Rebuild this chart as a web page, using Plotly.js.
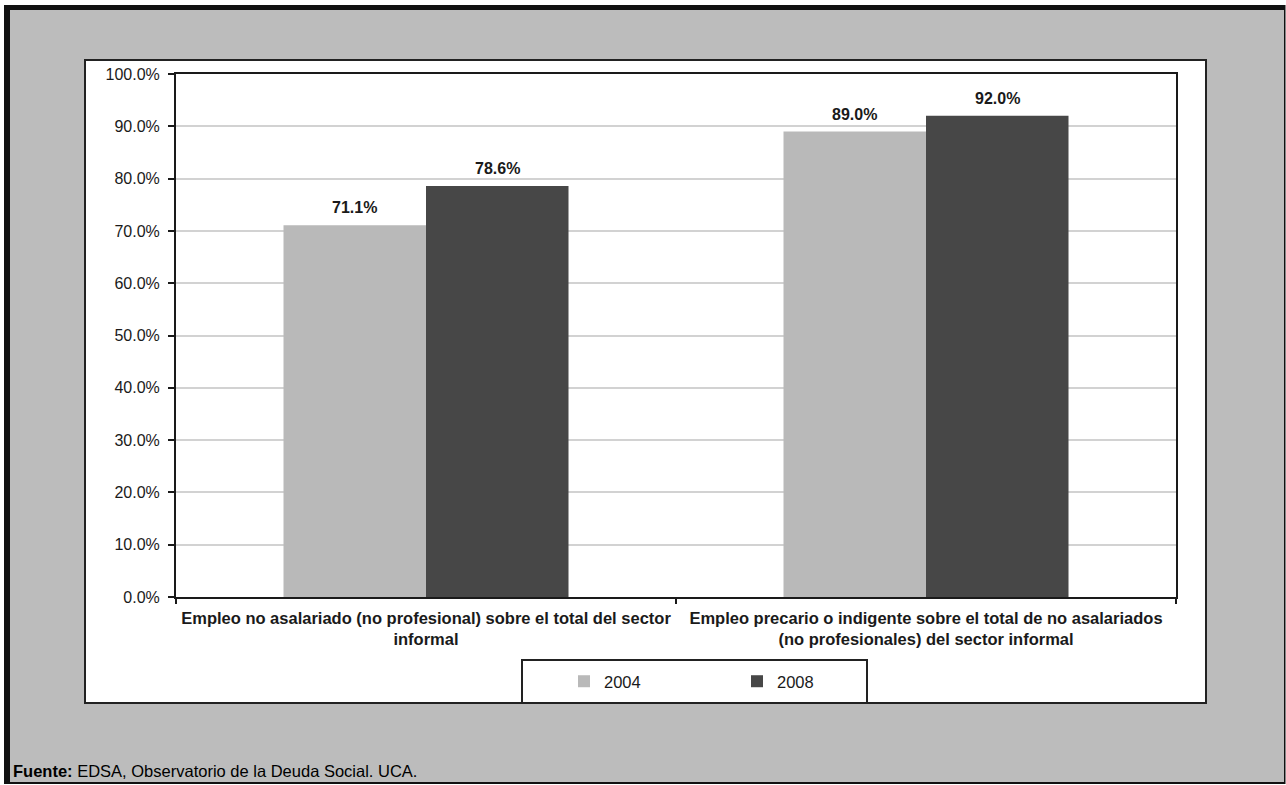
<!DOCTYPE html>
<html>
<head>
<meta charset="utf-8">
<script src="https://cdn.plot.ly/plotly-3.0.1.min.js"></script>
<style>
  html, body { margin: 0; padding: 0; background: #ffffff; }
  #chart { width: 1286px; height: 785px; }
</style>
</head>
<body>
<div id="chart"></div>
<script>
// Categories (two-line tick labels) and yearly series, in percent
const categories = [
  "Empleo no asalariado (no profesional) sobre el total del sector<br>informal",
  "Empleo precario o indigente sobre el total de no asalariados<br>(no profesionales) del sector informal"
];
const years = ["2004", "2008"];
const values2004 = [71.1, 89.0];
const values2008 = [78.6, 92.0];
const yTicks = [0, 10, 20, 30, 40, 50, 60, 70, 80, 90, 100];
const sourceNote = "<b>Fuente:</b> EDSA, Observatorio de la Deuda Social. UCA.";

// Figure geometry (pixels)
const W = 1286, H = 785;
const M = { l: 176, r: 110, t: 74, b: 188 };
const plotW = W - M.l - M.r;
const plotH = H - M.t - M.b;
const BARGAP = 0.43;

// Convert figure pixels to paper coordinates
const px = x => (x - M.l) / plotW;
const py = y => (H - M.b - y) / plotH;

const FONT = '"Liberation Sans", Arial, sans-serif';
const INK = '#1a1a1a';
const colors = { "2004": '#b9b9b9', "2008": '#474747' };
const seriesValues = [values2004, values2008];

const traces = years.map((yr, i) => ({
  type: 'bar',
  name: yr,
  x: categories,
  y: seriesValues[i],
  marker: { color: colors[yr], line: { width: 0 } },
  hoverinfo: 'skip'
}));

// Value labels above each bar, centred on the grouped bar positions
const catPx = plotW / categories.length;
const barPx = catPx * (1 - BARGAP) / years.length;
const annotations = [];
years.forEach((yr, i) => {
  const shift = (i - (years.length - 1) / 2) * barPx;
  categories.forEach((c, j) => {
    annotations.push({
      x: c, y: seriesValues[i][j], xref: 'x', yref: 'y',
      text: '<b>' + seriesValues[i][j].toFixed(1) + '%</b>',
      showarrow: false, xshift: shift, yanchor: 'bottom', yshift: 7,
      font: { family: FONT, size: 16, color: INK }
    });
  });
});
annotations.push({
  xref: 'paper', yref: 'paper', x: px(11), y: py(771),
  xanchor: 'left', yanchor: 'middle', showarrow: false,
  text: sourceNote, font: { family: FONT, size: 16.5, color: '#000' }
});

const shapes = [
  // outer frame and grey page
  { type: 'rect', xref: 'paper', yref: 'paper', layer: 'below',
    x0: px(4), x1: px(1285.5), y0: py(5), y1: py(784),
    fillcolor: '#111', line: { width: 0 } },
  { type: 'rect', xref: 'paper', yref: 'paper', layer: 'below',
    x0: px(10), x1: px(1284), y0: py(10), y1: py(782),
    fillcolor: '#bcbcbc', line: { width: 0 } },
  // white chart panel
  { type: 'rect', xref: 'paper', yref: 'paper', layer: 'below',
    x0: px(85), x1: px(1206), y0: py(60), y1: py(703),
    fillcolor: '#ffffff', line: { color: '#222', width: 2 } },
  // legend box
  { type: 'rect', xref: 'paper', yref: 'paper', layer: 'below',
    x0: px(522), x1: px(867), y0: py(660), y1: py(703),
    fillcolor: '#ffffff', line: { color: '#222', width: 2 } }
];

const layout = {
  width: W, height: H,
  margin: M,
  paper_bgcolor: '#ffffff',
  plot_bgcolor: '#ffffff',
  font: { family: FONT, size: 16, color: INK },
  barmode: 'group',
  bargap: BARGAP,
  bargroupgap: 0,
  showlegend: true,
  legend: {
    orientation: 'h',
    x: px(564), xanchor: 'left',
    y: py(681.5), yanchor: 'middle',
    bgcolor: 'rgba(0,0,0,0)', borderwidth: 0,
    entrywidth: 128, entrywidthmode: 'pixels',
    font: { family: FONT, size: 16.5, color: INK },
    traceorder: 'normal'
  },
  xaxis: {
    type: 'category',
    tickangle: 0,
    showline: true, mirror: true, linecolor: '#1a1a1a', linewidth: 2,
    ticks: 'outside', tickson: 'boundaries', ticklen: 5, tickwidth: 2, tickcolor: '#1a1a1a',
    ticklabelstandoff: 5,
    tickfont: { family: FONT, size: 16.5, color: INK, weight: 'bold' },
    showgrid: false, zeroline: false, fixedrange: true
  },
  yaxis: {
    range: [0, 100],
    tickvals: yTicks,
    ticktext: yTicks.map(v => v.toFixed(1) + '%'),
    showline: true, mirror: true, linecolor: '#1a1a1a', linewidth: 2,
    ticks: 'outside', ticklen: 6, tickwidth: 2, tickcolor: '#1a1a1a',
    ticklabelstandoff: 5,
    tickfont: { family: FONT, size: 16, color: INK },
    showgrid: true, gridcolor: '#d2d2d2', gridwidth: 2,
    zeroline: false, fixedrange: true
  },
  shapes: shapes,
  annotations: annotations
};

Plotly.newPlot('chart', traces, layout, { displayModeBar: false, staticPlot: true });
</script>
</body>
</html>
